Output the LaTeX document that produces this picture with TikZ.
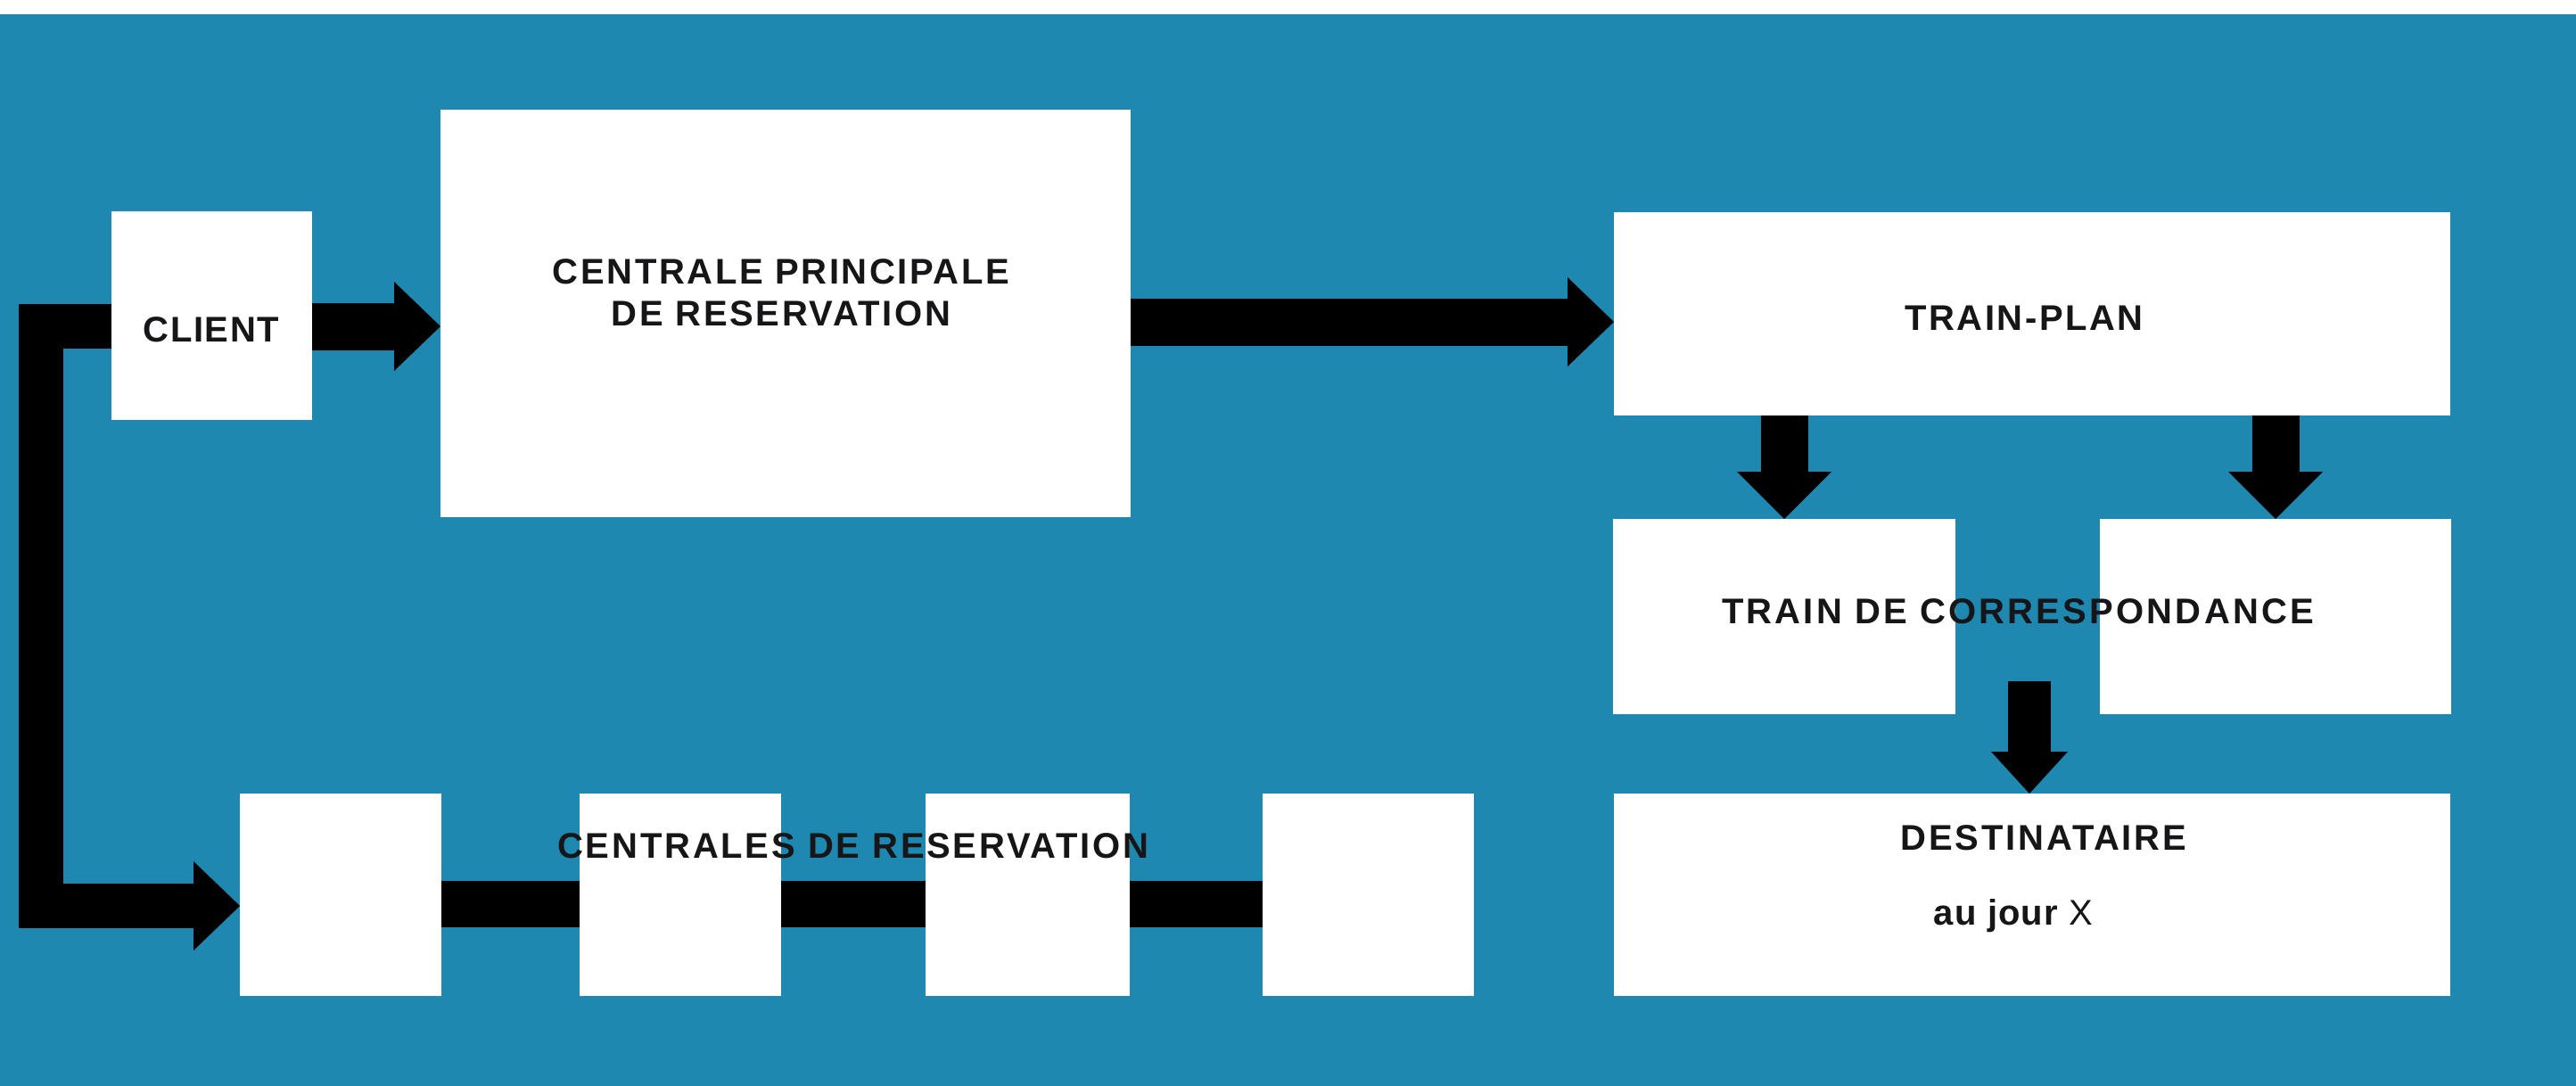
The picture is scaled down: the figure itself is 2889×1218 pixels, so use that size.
\documentclass[tikz,border=0pt]{standalone}
\usepackage{fontspec}
\setmainfont{Liberation Sans}
\newfontfamily\labfont{Liberation Sans}[LetterSpace=6.5]
\usetikzlibrary{arrows.meta}
\definecolor{bg}{RGB}{30,136,176}
\definecolor{ink}{RGB}{22,22,24}
\begin{document}
\begin{tikzpicture}[x=1pt,y=-1pt,
  box/.style={fill=white, draw=none, inner sep=0pt, outer sep=0pt},
  lab/.style={font=\labfont\bfseries\fontsize{40}{47}\selectfont, text=ink, align=center, inner sep=0pt, anchor=base},
  blk/.style={draw=black, line width=53pt, line join=miter, line cap=butt},
  tipH/.style={-{Triangle[width=100pt,length=52pt,line width=0pt]}},
  tipD/.style={-{Triangle[width=106pt,length=53pt,line width=0pt]}},
  tipM/.style={-{Triangle[width=86pt,length=47pt,line width=0pt]}},
]
\useasboundingbox (0,0) rectangle (2889,1218);
\fill[bg] (0,0) rectangle (2889,1218);
\fill[white] (0,0) rectangle (2889,16);

% boxes
\node[box, minimum width=225pt, minimum height=234pt] (client) at (237.5,354) {};
\node[box, minimum width=774pt, minimum height=457pt] (cpr) at (881,351.5) {};
\node[box, minimum width=938pt, minimum height=228pt] (tp) at (2279,352) {};
\node[box, minimum width=384pt, minimum height=219pt] (tcl) at (2001,691.5) {};
\node[box, minimum width=394pt, minimum height=219pt] (tcr) at (2552,691.5) {};
\node[box, minimum width=938pt, minimum height=227pt] (dest) at (2279,1003.5) {};
\node[box, minimum width=226pt, minimum height=227pt] (c1) at (382,1003.5) {};
\node[box, minimum width=226pt, minimum height=227pt] (c2) at (763,1003.5) {};
\node[box, minimum width=229pt, minimum height=227pt] (c3) at (1152.5,1003.5) {};
\node[box, minimum width=237pt, minimum height=227pt] (c4) at (1534.5,1003.5) {};

% helper coordinates
\coordinate (ya) at (0,366);
\coordinate (yc) at (0,361);
\coordinate (yd) at (0,1014);
\coordinate (yb) at (0,1016);
\coordinate (lc1) at (46,366);
\coordinate (lc2) at (46,1016);
\coordinate (mid) at (2276,764);

% connectors
\draw[blk, tipH] (client.east |- ya) -- (cpr.west |- ya);
\draw[blk, tipH] (cpr.east |- yc) -- (tp.west |- yc);
\draw[blk, line width=50pt, tipH] (client.west |- ya) -- (lc1) -- (lc2) -- (c1.west |- yb);
\draw[blk, line width=52pt] (c1.east |- yd) -- (c2.west |- yd);
\draw[blk, line width=52pt] (c2.east |- yd) -- (c3.west |- yd);
\draw[blk, line width=52pt] (c3.east |- yd) -- (c4.west |- yd);
\draw[blk, tipD] (tcl.north |- tp.south) -- (tcl.north);
\draw[blk, tipD] (tcr.north |- tp.south) -- (tcr.north);
\draw[blk, line width=48pt, tipM] (mid) -- (mid |- dest.north);

% labels
\node[lab] (clientt) at (237,383) {\addfontfeature{LetterSpace=4}CLIENT};
\node[lab] (cprt) at (876,365) {CENTRALE PRINCIPALE\\DE RESERVATION};
\node[lab] (tpt) at (2270,370) {TRAIN-PLAN};
\node[lab] (tct) at (2263,699) {\addfontfeature{LetterSpace=8}TRAIN DE CORRESPONDANCE};
\node[lab] (destt) at (2292,953) {\addfontfeature{LetterSpace=7}DESTINATAIRE};
\node[lab] (jourt) at (2258,1037) {\addfontfeature{LetterSpace=3}au jour {\mdseries X}};
\node[lab] (crt) at (957,962) {\addfontfeature{LetterSpace=7}CENTRALES DE RESERVATION};
\end{tikzpicture}
\end{document}
